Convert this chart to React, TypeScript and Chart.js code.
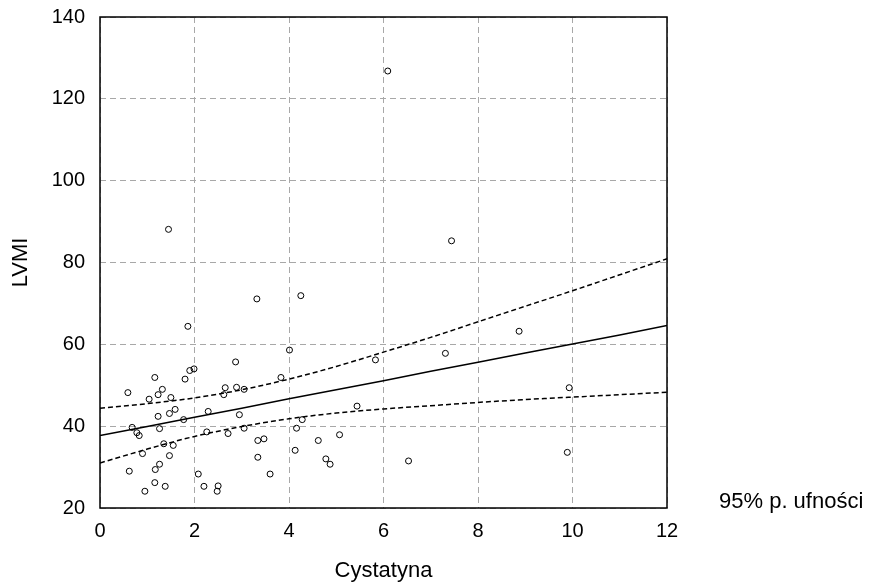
import React, { useEffect, useRef } from "react";
import { Chart, registerables } from "chart.js";

Chart.register(...registerables);

// Scatter data
const cystatyna = [
  3.32, 1.86, 4.01, 2.87, 1.16, 3.83, 1.9, 1.99, 1.8, 0.59, 2.65, 2.62, 2.89, 3.05, 1.23, 1.32, 1.04,
  1.5, 1.59, 1.47, 1.23, 1.77, 2.29, 2.95, 0.68, 0.78, 0.83, 1.26, 2.26, 2.71, 3.05, 1.35, 1.55, 0.9,
  1.47, 3.34, 3.47, 3.34, 1.26, 1.17, 0.62, 3.6, 2.08, 1.16, 1.38, 0.95, 2.2, 2.5, 2.48, 4.25, 5.83,
  7.31, 5.44, 4.28, 4.16, 5.07, 4.62, 4.13, 4.78, 4.87, 6.53, 8.87, 9.93, 9.89, 1.45, 6.09, 7.44,
];
const lvmi = [
  71.1, 64.4, 58.6, 55.7, 51.9, 51.9, 53.6, 54.0, 51.5, 48.2, 49.4, 47.7, 49.5, 49.0, 47.7, 49.0, 46.6,
  47.0, 44.1, 43.1, 42.4, 41.6, 43.6, 42.8, 39.7, 38.4, 37.7, 39.4, 38.6, 38.2, 39.5, 35.7, 35.3, 33.3,
  32.8, 36.5, 36.9, 32.4, 30.7, 29.4, 29.0, 28.3, 28.3, 26.2, 25.3, 24.1, 25.3, 25.4, 24.1, 71.9, 56.2,
  57.8, 44.9, 41.6, 39.5, 37.9, 36.5, 34.1, 32.0, 30.7, 31.5, 63.2, 49.4, 33.6, 88.1, 126.8, 85.3,
];

// Regression line and 95% confidence band
const lineX = [0, 1, 2, 3, 4, 5, 6, 7, 8, 9, 10, 11, 12];
const fitY = [37.7, 39.9, 42.2, 44.4, 46.7, 48.9, 51.1, 53.4, 55.6, 57.9, 60.1, 62.3, 64.6];
const upperY = [44.4, 45.5, 46.9, 48.9, 51.5, 54.6, 58.1, 61.7, 65.5, 69.3, 73.1, 77.0, 80.9];
const lowerY = [31.0, 34.4, 37.5, 39.9, 41.8, 43.2, 44.2, 45.0, 45.8, 46.5, 47.1, 47.7, 48.3];

const xTitle = "Cystatyna";
const yTitle = "LVMI";
const legendText = "95% p. ufności";

const FONT = '"Liberation Sans", Arial, sans-serif';

export default function App() {
  const ref = useRef<HTMLCanvasElement | null>(null);

  useEffect(() => {
    if (!ref.current) return;
    const pts = cystatyna.map((x, i) => ({ x, y: lvmi[i] }));
    const mk = (ys: number[]) => lineX.map((x, i) => ({ x, y: ys[i] }));

    const boxPlugin = {
      id: "boxPlugin",
      afterDraw(chart: any) {
        const { ctx, chartArea: a } = chart;
        ctx.save();
        ctx.strokeStyle = "#000";
        ctx.lineWidth = 1.5;
        ctx.setLineDash([]);
        ctx.strokeRect(a.left, a.top, a.right - a.left, a.bottom - a.top);
        ctx.fillStyle = "#000";
        ctx.font = "22px " + FONT;
        ctx.textBaseline = "middle";
        ctx.textAlign = "left";
        ctx.fillText(legendText, 719, 502);
        ctx.restore();
      },
    };

    const chart = new Chart(ref.current, {
      type: "scatter",
      data: {
        datasets: [
          {
            label: "points",
            data: pts,
            pointStyle: "circle",
            pointRadius: 3,
            pointBorderWidth: 1,
            borderColor: "#000",
            backgroundColor: "rgba(0,0,0,0)",
            showLine: false,
          },
          {
            label: "fit",
            data: mk(fitY),
            showLine: true,
            pointRadius: 0,
            borderColor: "#000",
            borderWidth: 1.5,
            tension: 0,
          },
          {
            label: "upper",
            data: mk(upperY),
            showLine: true,
            pointRadius: 0,
            borderColor: "#000",
            borderWidth: 1.5,
            borderDash: [5, 3],
            cubicInterpolationMode: "monotone",
          },
          {
            label: "lower",
            data: mk(lowerY),
            showLine: true,
            pointRadius: 0,
            borderColor: "#000",
            borderWidth: 1.5,
            borderDash: [5, 3],
            cubicInterpolationMode: "monotone",
          },
        ],
      } as any,
      options: {
        responsive: false,
        animation: false,
        layout: { padding: { left: 0, right: 202, top: 17, bottom: 0 } },
        plugins: { legend: { display: false }, tooltip: { enabled: false } },
        scales: {
          x: {
            type: "linear",
            min: 0,
            max: 12,
            ticks: { stepSize: 2, color: "#000", font: { size: 20, family: FONT }, padding: 11 },
            grid: { color: "#a8a8a8", lineWidth: 1, drawTicks: false },
            border: { display: false, dash: [6, 4] },
            title: {
              display: true,
              text: xTitle,
              color: "#000",
              font: { size: 22, family: FONT },
              padding: { top: 0, bottom: 0 },
            },
            afterFit(scale: any) {
              scale.height = 76;
              scale.paddingLeft = 0;
              scale.paddingRight = 0;
            },
          },
          y: {
            type: "linear",
            min: 20,
            max: 140,
            ticks: { stepSize: 20, color: "#000", font: { size: 20, family: FONT }, padding: 15 },
            grid: { color: "#a8a8a8", lineWidth: 1, drawTicks: false },
            border: { display: false, dash: [6, 4] },
            title: {
              display: true,
              text: yTitle,
              color: "#000",
              font: { size: 22, family: FONT },
              padding: { top: 8, bottom: 0 },
            },
            afterFit(scale: any) {
              scale.width = 100;
              scale.paddingTop = 0;
              scale.paddingBottom = 0;
            },
          },
        },
      } as any,
      plugins: [boxPlugin],
    });
    return () => chart.destroy();
  }, []);

  return (
    <div style={{ position: "fixed", left: 0, top: 0, width: 869, height: 584, background: "#fff" }}>
      <canvas ref={ref} width={869} height={584} />
    </div>
  );
}
